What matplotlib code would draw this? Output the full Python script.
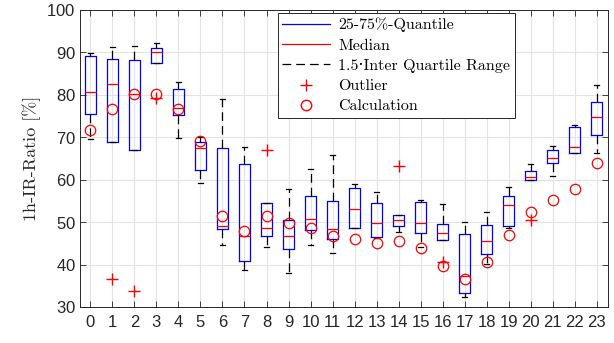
import matplotlib
matplotlib.use("Agg")
from matplotlib import pyplot as plt
from matplotlib.lines import Line2D

hours = list(range(24))
q1 = [75.5, 68.8, 67.0, 87.6, 75.2, 62.2, 48.4, 40.8, 46.8, 43.7, 48.1, 46.1,
      48.7, 46.4, 49.2, 47.5, 45.9, 33.4, 42.4, 49.1, 59.9, 63.9, 66.4, 70.5]
med = [80.6, 82.5, 80.1, 90.0, 77.0, 67.4, 49.1, 46.7, 48.5, 46.8, 50.8, 48.4,
       53.2, 49.7, 50.6, 49.7, 47.4, 37.3, 45.6, 54.0, 60.7, 65.0, 67.7, 74.7]
q3 = [89.1, 88.4, 88.2, 91.0, 81.3, 68.9, 67.5, 63.6, 54.6, 50.5, 56.2, 54.9,
      58.1, 54.6, 51.6, 54.7, 49.5, 47.1, 49.4, 56.2, 62.0, 67.0, 72.5, 78.4]
whislo = [69.7, 68.8, 67.0, 87.6, 69.9, 59.3, 44.5, 38.7, 44.2, 38.1, 44.5, 42.7,
          48.7, 46.2, 47.7, 44.2, 45.7, 32.4, 40.2, 48.7, 59.9, 60.8, 66.4, 66.4]
whishi = [89.9, 91.3, 91.6, 92.1, 83.0, 70.1, 78.9, 67.6, 54.6, 57.9, 62.6, 65.8,
          58.9, 57.1, 51.6, 55.1, 54.2, 50.1, 52.3, 58.2, 63.7, 67.9, 72.9, 82.3]
outliers = {1: [36.5], 2: [33.8], 3: [79.2], 8: [67.0], 14: [63.3], 16: [40.5], 20: [50.5]}
calc = [71.6, 76.6, 80.1, 80.3, 76.6, 69.1, 51.5, 48.0, 51.4, 49.8, 48.6, 46.7,
        46.0, 45.0, 45.5, 43.8, 39.6, 36.7, 40.6, 46.9, 52.3, 55.2, 57.7, 64.0]

serif = ["cmr10", "DejaVu Serif"]
plt.rcParams["axes.formatter.use_mathtext"] = True

stats = []
for i in hours:
    stats.append({"med": med[i], "q1": q1[i], "q3": q3[i],
                  "whislo": whislo[i], "whishi": whishi[i],
                  "fliers": outliers.get(i, [])})

fig = plt.figure(figsize=(6.14, 3.43), dpi=100)
ax = fig.add_axes([0.131, 0.105, 0.859, 0.866])

ax.bxp(stats, positions=hours, widths=0.5, showfliers=True,
       boxprops=dict(color="blue", linewidth=0.9),
       medianprops=dict(color="red", linewidth=0.9),
       whiskerprops=dict(color="black", linestyle=(0, (7, 4)), linewidth=0.9),
       capprops=dict(color="black", linewidth=0.9),
       flierprops=dict(marker="+", markeredgecolor="red", markersize=8, linestyle="none"),
       capwidths=0.22)
ax.plot(hours, calc, linestyle="none", marker="o", markersize=7.5,
        markerfacecolor="none", markeredgecolor="red", markeredgewidth=0.9)

ax.set_xlim(-0.45, 23.5)
ax.set_ylim(30, 100)
ax.set_xticks(hours)
ax.set_xticklabels([str(h) for h in hours])
ax.set_yticks(range(30, 101, 10))
ax.grid(True, color="#e3e3e3", linewidth=0.8)
ax.set_axisbelow(True)
ax.tick_params(direction="in", top=True, right=True, labelsize=12,
               colors="#262626", length=4, width=0.6)
for sp in ax.spines.values():
    sp.set_color("#262626")
    sp.set_linewidth(0.7)
for lab in ax.get_xticklabels() + ax.get_yticklabels():
    lab.set_family("Liberation Sans")
ax.tick_params(axis="x", pad=6)

ax.set_ylabel("1h-IR-Ratio [%]", family=serif, fontsize=13, color="#262626")

handles = [
    Line2D([], [], color="blue", linewidth=0.9),
    Line2D([], [], color="red", linewidth=0.9),
    Line2D([], [], color="black", linestyle=(0, (7, 4)), linewidth=0.9),
    Line2D([], [], color="red", marker="+", linestyle="none", markersize=8),
    Line2D([], [], color="red", marker="o", linestyle="none", markersize=7.5,
           markerfacecolor="none"),
]
labels = ["25-75%-Quantile", "Median", "1.5\u00b7Inter Quartile Range",
          "Outlier", "Calculation"]
leg = ax.legend(handles, labels, loc="upper left", bbox_to_anchor=(0.374, 0.99),
                fancybox=False, edgecolor="#262626", framealpha=1,
                prop={"family": serif, "size": 11.5}, handlelength=3.0,
                borderpad=0.3, labelspacing=0.38, handletextpad=0.5,
                borderaxespad=0)
leg.get_frame().set_linewidth(0.7)

fig.savefig("out.png", dpi=100)
